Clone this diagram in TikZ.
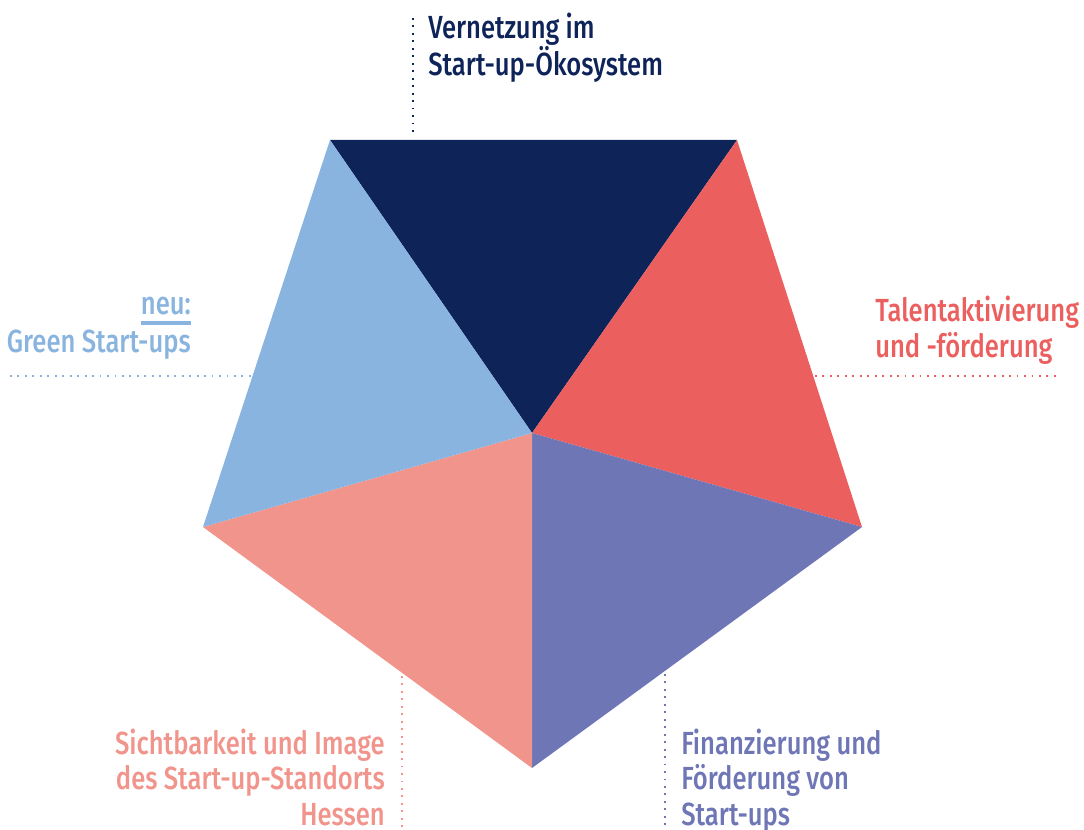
\documentclass[tikz,border=0pt]{standalone}
\usepackage{fontspec}
\newfontfamily\lab{Fira Sans}[UprightFont=* Medium, FakeStretch=0.8]
\definecolor{navy}{RGB}{14,36,89}
\definecolor{coral}{RGB}{236,95,95}
\definecolor{lblue}{RGB}{138,180,224}
\definecolor{salmon}{RGB}{241,149,140}
\definecolor{violet}{RGB}{110,118,182}
\tikzset{
  lbl/.style={font=\lab\fontsize{24pt}{26.6pt}\selectfont, inner sep=0pt, align=#1},
  dotline/.style={draw=#1, line width=1.6pt, dash pattern=on 1.4pt off 4.2pt}
}
\begin{document}
\begin{tikzpicture}[x=0.75pt,y=-0.75pt]
\useasboundingbox (0,0) rectangle (1084,830);
\coordinate (TL) at (330,140);
\coordinate (TR) at (737,140);
\coordinate (R) at (862,527);
\coordinate (B) at (532,768);
\coordinate (L) at (203,527);
\coordinate (C) at (532,433);
\fill[navy] (TL) -- (TR) -- (C) -- cycle;
\fill[coral] (TR) -- (R) -- (C) -- cycle;
\fill[violet] (R) -- (B) -- (C) -- cycle;
\fill[salmon] (B) -- (L) -- (C) -- cycle;
\fill[lblue] (L) -- (TL) -- (C) -- cycle;
% dotted leader lines
\coordinate (t1) at (413,18); \coordinate (t2) at (413,135);
\coordinate (l1) at (10,376); \coordinate (l2) at (251,376);
\coordinate (r1) at (815,376); \coordinate (r2) at (1056,376);
\coordinate (bl1) at (402,676); \coordinate (bl2) at (402,830);
\coordinate (br1) at (665,674); \coordinate (br2) at (665,830);
\draw[dotline=navy] (t1) -- (t2);
\draw[dotline=lblue] (l1) -- (l2);
\draw[dotline=coral] (r1) -- (r2);
\draw[dotline=salmon] (bl1) -- (bl2);
\draw[dotline=violet] (br1) -- (br2);
% labels (base anchor = baseline of last line)
\node[lbl=left, text=navy, anchor=base west] (top) at (428,76) {Vernetzung im\\Start-up-Ökosystem};
\node[lbl=right, text=lblue, anchor=base east] (neu) at (191,315) {neu:};
\draw[lblue, line width=2.3pt] ([yshift=-6pt]neu.base west) -- ([yshift=-6pt]neu.base east);
\node[lbl=right, text=lblue, anchor=base east] (green) at (191,352) {Green Start-ups};
\node[lbl=left, text=coral, anchor=base west] (talent) at (875,357) {Talentaktivierung\\und -förderung};
\node[lbl=right, text=salmon, anchor=base east] (sicht) at (385,825) {Sichtbarkeit und Image\\des Start-up-Standorts\\Hessen};
\node[lbl=left, text=violet, anchor=base west] (fin) at (681,825) {Finanzierung und\\Förderung von\\Start-ups};
\end{tikzpicture}
\end{document}
